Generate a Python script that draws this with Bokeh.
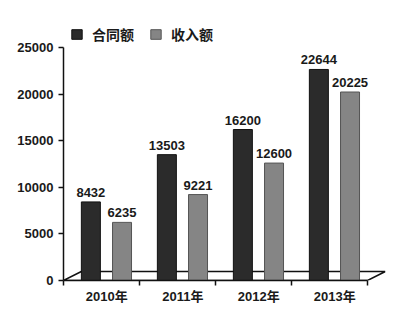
from bokeh.plotting import figure
from bokeh.models import (Range1d, FixedTicker, CustomJSTickFormatter, Legend,
                          LegendItem, ColumnDataSource)
from bokeh.transform import dodge
from bokeh.core.properties import value
from bokeh.embed import file_html
from bokeh.resources import INLINE

years = ["2010年", "2011年", "2012年", "2013年"]
contract = [8432, 13503, 16200, 22644]
income = [6235, 9221, 12600, 20225]
series_names = ["合同额", "收入额"]
y_ticks = [0, 5000, 10000, 15000, 20000, 25000]

FONT = "'Liberation Sans', 'Noto Sans CJK SC', sans-serif"
DARK = "#2b2b2b"
GRAY = "#858585"

n = len(years)
src = ColumnDataSource(dict(
    i=list(range(n)),
    contract=contract,
    income=income,
    c_lbl=[str(v) for v in contract],
    i_lbl=[str(v) for v in income],
))

px_per_cat = 76.0
px_per_unit = 0.00932
p = figure(width=400, height=319, output_backend="svg", toolbar_location=None,
           x_range=Range1d(0, 322 / px_per_cat),
           y_range=Range1d(0, 270 / px_per_unit),
           min_border_left=63, min_border_right=15,
           min_border_top=10, min_border_bottom=39)
p.outline_line_color = None
p.xgrid.visible = False
p.ygrid.visible = False
p.background_fill_color = "white"
p.border_fill_color = "white"

# 3D floor (decoration)
depth_x = 0.235
depth_y = 9 / px_per_unit
p.patch(x=[0, n, n + depth_x, depth_x], y=[0, 0, depth_y, depth_y],
        fill_color="white", line_color="#111111", line_width=1.5)

r_dark = p.vbar(x=dodge("i", 0.36), top="contract", bottom=0, width=0.25,
                source=src, fill_color=DARK, line_color="#111111", line_width=1)
r_gray = p.vbar(x=dodge("i", 0.77), top="income", bottom=0, width=0.25,
                source=src, fill_color=GRAY, line_color="#555555", line_width=1)

for xoff, col in ((0.36, "c_lbl"), (0.77, "i_lbl")):
    top = "contract" if col == "c_lbl" else "income"
    p.text(x=dodge("i", xoff), y=top, text=col, source=src,
           text_align="center", text_baseline="bottom", y_offset=-5,
           text_font=value(FONT), text_font_size="13px",
           text_font_style="bold", text_color="#1a1a1a")

# x axis: labels between boundary ticks
xa = p.xaxis[0]
xa.ticker = FixedTicker(ticks=[i + 0.57 for i in range(n)],
                        minor_ticks=list(range(n + 1)))
xa.formatter = CustomJSTickFormatter(args=dict(labels=years),
                                     code="return labels[index];")
xa.bounds = (0, n)
xa.axis_line_color = "#111111"
xa.axis_line_width = 1.5
xa.major_tick_line_color = None
xa.minor_tick_line_color = "#111111"
xa.minor_tick_line_width = 1.5
xa.minor_tick_in = 0
xa.minor_tick_out = 5
xa.major_label_standoff = 2
xa.major_label_text_font = FONT
xa.major_label_text_font_size = "13px"
xa.major_label_text_font_style = "bold"
xa.major_label_text_color = "#1a1a1a"

ya = p.yaxis[0]
ya.ticker = FixedTicker(ticks=y_ticks)
ya.bounds = (0, y_ticks[-1])
ya.axis_line_color = "#111111"
ya.axis_line_width = 1.5
ya.major_tick_line_color = "#111111"
ya.major_tick_line_width = 1.5
ya.major_tick_in = 0
ya.major_tick_out = 5
ya.minor_tick_line_color = None
ya.major_label_standoff = 5
ya.major_label_text_font = FONT
ya.major_label_text_font_size = "13px"
ya.major_label_text_font_style = "bold"
ya.major_label_text_color = "#1a1a1a"

legend = Legend(items=[LegendItem(label=series_names[0], renderers=[r_dark]),
                       LegendItem(label=series_names[1], renderers=[r_gray])],
                orientation="horizontal", location=(7, 236),
                glyph_width=13, glyph_height=12, label_height=12,
                label_standoff=9, spacing=15, padding=0, margin=0,
                border_line_color=None, background_fill_alpha=0,
                label_text_font=FONT, label_text_font_size="14px",
                label_text_font_style="bold", label_text_color="#1a1a1a")
p.add_layout(legend)

open("out.html", "w").write(file_html(p, INLINE))
